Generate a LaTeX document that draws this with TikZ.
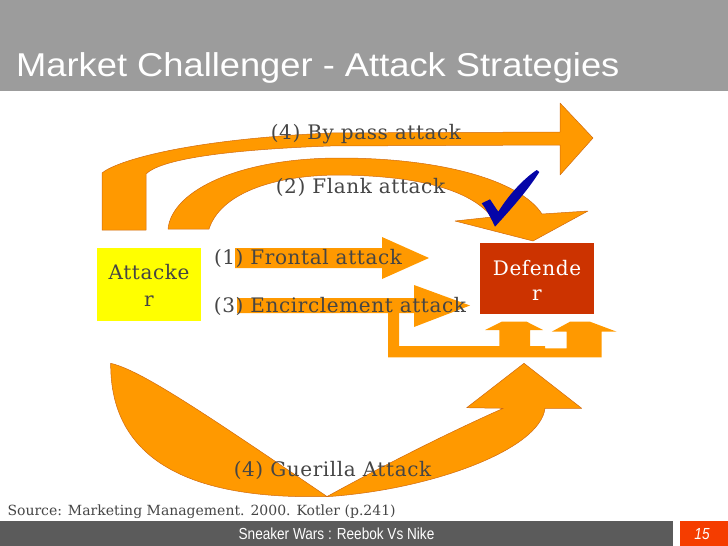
\documentclass[tikz,border=0pt]{standalone}
\usepackage{graphicx}
\usepackage{fontspec}
\setmainfont{DejaVu Serif}
\newfontfamily\lblfont{DejaVu Serif}[LetterSpace=3]
\newfontfamily\srcfont{DejaVu Serif}
\newfontfamily\sansfont{Liberation Sans}
\definecolor{orng}{HTML}{FF9900}
\definecolor{orngline}{HTML}{D06A10}
\definecolor{titlegray}{HTML}{9C9C9C}
\definecolor{footgray}{HTML}{5B5B5B}
\definecolor{footred}{HTML}{F53D00}
\definecolor{lbltext}{HTML}{454545}
\definecolor{attyellow}{HTML}{FFFF00}
\definecolor{defred}{HTML}{CC3300}
\definecolor{checkblue}{HTML}{0505A8}
\begin{document}
\begin{tikzpicture}[x=1pt,y=-1pt,
  arrowshape/.style={fill=orng, draw=orngline, line width=0.5pt, line join=round},
  flatshape/.style={fill=orng},
  lbl/.style={text=lbltext, font=\lblfont\fontsize{20}{24}\selectfont, inner sep=0pt, anchor=base},
  boxtext/.style={font=\lblfont\fontsize{20}{24}\selectfont, inner sep=0pt, anchor=base}
]
\useasboundingbox (0,0) rectangle (728,546);
% title bar
\fill[titlegray] (0,0) rectangle (728,91);
\node[anchor=base west, text=white, inner sep=0pt, font=\sansfont\fontsize{33}{36}\selectfont] (title) at (16,76)
  {\scalebox{1.1}[1]{Market Challenger - Attack Strategies}};

% (4) by pass attack
\path[arrowshape] (102,230) -- (102,173)
  .. controls (115,162) and (180,140) .. (330,133)
  -- (560,132) -- (560,103) -- (593,138) -- (560,175) -- (560,145)
  -- (330,146) .. controls (220,150) and (160,160) .. (146,174)
  -- (146,230) -- cycle;

% (2) flank attack
\path[arrowshape] (168,229) .. controls (172,190) and (240,158) .. (340,158)
  .. controls (440,158) and (520,180) .. (542,214)
  -- (588,211) -- (533,241) -- (455,221) -- (492,217)
  .. controls (470,190) and (420,176) .. (340,175)
  .. controls (270,175) and (220,195) .. (209,229) -- cycle;

% check mark
\fill[checkblue] (481.7,203.3) -- (490,199.3) -- (498.3,211.7)
  .. controls (508,196) and (522,180) .. (536.7,170)
  -- (539.3,172)
  .. controls (528,190) and (512,208) .. (495,226.7)
  .. controls (491,218) and (486,209) .. (481.7,203.3) -- cycle;

% boxes
\fill[attyellow] (97,248) rectangle (201,321);
\fill[defred] (480,243) rectangle (594,314);
\node[boxtext, text=lbltext] (att1) at (149,279) {Attacke};
\node[boxtext, text=lbltext] (att2) at (149,306) {r};
\node[boxtext, text=white] (def1) at (537,275) {Defende};
\node[boxtext, text=white] (def2) at (537,300) {r};

% (1) frontal attack
\path[flatshape] (235,248) -- (382,248) -- (382,237) -- (429,258) -- (382,279) -- (382,268) -- (235,268) -- cycle;

% (3) encirclement attack
\path[flatshape] (237,298) -- (414,298) -- (414,285) -- (470,305.5) -- (414,327) -- (414,313) -- (237,313) -- cycle;
\path[flatshape] (388,305) -- (388,357.3) -- (601.7,357.3) -- (601.7,331.7) -- (616.7,331.7)
  -- (590,321.7) -- (570,321.7) -- (551.7,331.7) -- (566.7,331.7) -- (566.7,348.3)
  -- (545,348.3) -- (545,346) -- (530,346) -- (530,330) -- (543,330)
  -- (526.7,321.7) -- (501.7,321.7) -- (485,330) -- (499.3,330) -- (499.3,346)
  -- (399,346) -- (399,305) -- cycle;

% (4) guerilla attack
\path[arrowshape] (110.7,363.3) .. controls (110,460) and (190,500) .. (327,496.5)
  .. controls (200,410) and (140,370) .. (110.7,363.3) -- cycle;
\path[arrowshape] (326.7,496.7) .. controls (430,490) and (540,450) .. (545,408.3)
  -- (581.7,408.3) -- (524,363.3) -- (466.7,407.7) -- (503.3,408.3)
  .. controls (450,432) and (390,462) .. (326.7,496.7) -- cycle;

% labels
\node[lbl] (bypass) at (366,139) {(4) By pass attack};
\node[lbl] (flank) at (360.5,193) {(2) Flank attack};
\node[lbl] (frontal) at (308,264) {(1) Frontal attack};
\node[lbl] (encircle) at (340,312.7) {(3) Encirclement attack};
\node[lbl] (guerilla) at (332.5,476) {(4) Guerilla Attack};

% source
\node[text=lbltext, font=\srcfont\fontsize{14}{17}\selectfont, inner sep=0pt, anchor=base west] (source) at (7.3,515)
  {Source: Marketing Management. 2000. Kotler (p.241)};

% footer
\fill[footgray] (0,521) rectangle (673,546);
\fill[footred] (680,521) rectangle (728,546);
\node[text=white, font=\sansfont\fontsize{16}{18}\selectfont, inner sep=0pt, anchor=base] (foot) at (336.5,539.5) {\scalebox{0.85}[1]{Sneaker Wars : Reebok Vs Nike}};
\node[text=white, font=\sansfont\itshape\fontsize{16}{18}\selectfont, inner sep=0pt, anchor=base] (page) at (702,539.5) {\scalebox{0.85}[1]{15}};
\end{tikzpicture}
\end{document}
